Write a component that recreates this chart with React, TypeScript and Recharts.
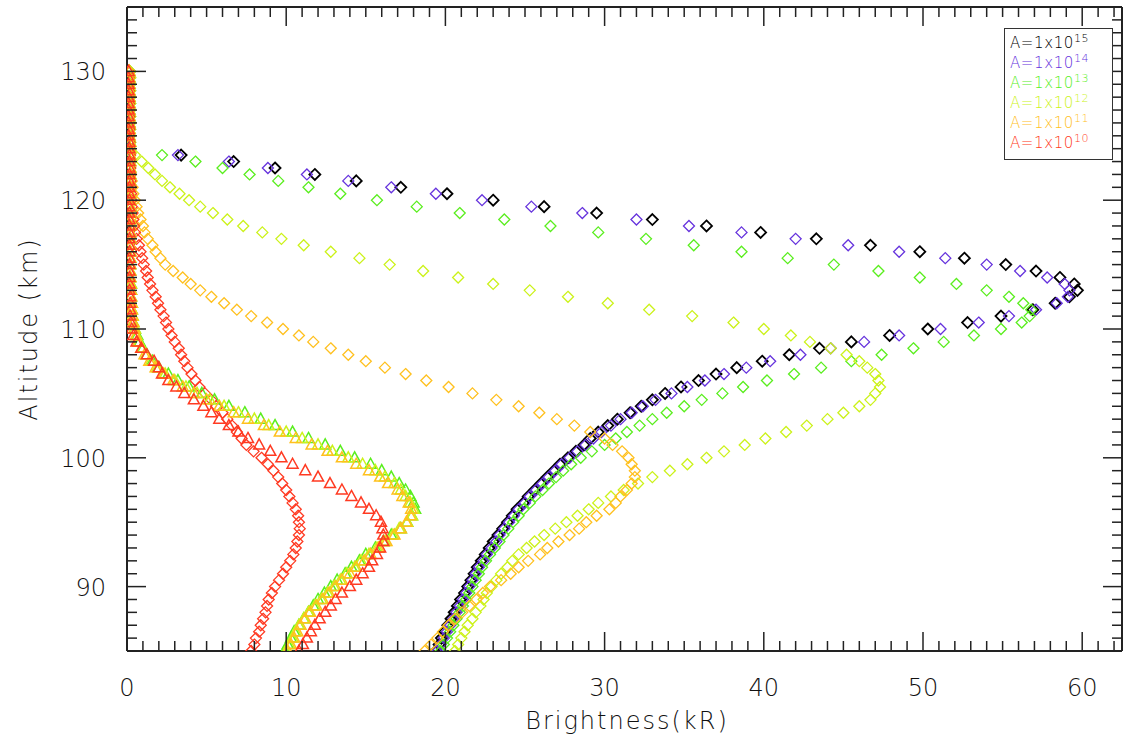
import { ScatterChart, Scatter, XAxis, YAxis, ReferenceLine, Legend } from "recharts";

// Altitude grid (km) shared by every profile.
const ALT = [
  85, 85.5, 86, 86.5, 87, 87.5, 88, 88.5, 89, 89.5,
  90, 90.5, 91, 91.5, 92, 92.5, 93, 93.5, 94, 94.5,
  95, 95.5, 96, 96.5, 97, 97.5, 98, 98.5, 99, 99.5,
  100, 100.5, 101, 101.5, 102, 102.5, 103, 103.5, 104, 104.5,
  105, 105.5, 106, 106.5, 107, 107.5, 108, 108.5, 109, 109.5,
  110, 110.5, 111, 111.5, 112, 112.5, 113, 113.5, 114, 114.5,
  115, 115.5, 116, 116.5, 117, 117.5, 118, 118.5, 119, 119.5,
  120, 120.5, 121, 121.5, 122, 122.5, 123, 123.5, 124, 124.5,
  125, 125.5, 126, 126.5, 127, 127.5, 128, 128.5, 129, 129.5,
  130,
];

// Brightness (kR), diamonds
const D15 = [
  19.4, 19.6, 19.75, 19.95, 20.15, 20.35, 20.55, 20.75, 20.95, 21.2,
  21.4, 21.6, 21.8, 22.0, 22.25, 22.5, 22.75, 23.0, 23.3, 23.6,
  23.9, 24.2, 24.5, 24.9, 25.2, 25.6, 26.0, 26.4, 26.8, 27.2,
  27.7, 28.2, 28.7, 29.1, 29.6, 30.2, 30.8, 31.6, 32.3, 33.0,
  33.8, 34.8, 35.9, 37.0, 38.3, 39.9, 41.6, 43.5, 45.5, 47.9,
  50.3, 52.8, 54.9, 56.9, 58.3, 59.2, 59.7, 59.5, 58.6, 57.1,
  55.2, 52.6, 49.8, 46.7, 43.3, 39.8, 36.4, 33.0, 29.5, 26.2,
  23.0, 20.1, 17.2, 14.4, 11.8, 9.3, 6.7, 3.4, 0.1, 0.1,
  0.1, 0.1, 0.1, 0.1, 0.1, 0.1, 0.1, 0.1, 0.1, 0.1,
  0.1,
];
const D14 = [
  19.5, 19.7, 19.9, 20.1, 20.3, 20.5, 20.7, 20.9, 21.1, 21.3,
  21.5, 21.7, 21.9, 22.1, 22.4, 22.6, 22.9, 23.2, 23.4, 23.7,
  24.0, 24.3, 24.6, 25.0, 25.3, 25.7, 26.1, 26.5, 26.9, 27.3,
  27.8, 28.3, 28.8, 29.3, 29.8, 30.4, 31.0, 31.7, 32.4, 33.2,
  34.2, 35.2, 36.3, 37.5, 38.9, 40.4, 42.3, 44.2, 46.3, 48.5,
  51.1, 53.5, 55.4, 57.1, 58.4, 59.1, 59.2, 58.9, 57.8, 56.1,
  54.0, 51.4, 48.5, 45.3, 42.0, 38.6, 35.3, 32.0, 28.6, 25.4,
  22.3, 19.4, 16.6, 13.9, 11.3, 8.85, 6.4, 3.2, 0.1, 0.1,
  0.1, 0.1, 0.1, 0.1, 0.1, 0.1, 0.1, 0.1, 0.1, 0.1,
  0.1,
];
const D13 = [
  19.7, 19.9, 20.1, 20.3, 20.5, 20.7, 20.9, 21.1, 21.3, 21.5,
  21.7, 21.9, 22.1, 22.3, 22.55, 22.8, 23.1, 23.4, 23.65, 23.95,
  24.25, 24.6, 24.9, 25.3, 25.65, 26.1, 26.5, 26.95, 27.4, 27.9,
  28.5, 29.2, 30.0, 30.7, 31.4, 32.2, 33.0, 33.9, 35.0, 36.1,
  37.4, 38.7, 40.2, 41.9, 43.6, 45.5, 47.4, 49.4, 51.3, 53.2,
  54.9, 56.2, 56.7, 56.8, 56.3, 55.4, 54.0, 52.1, 49.8, 47.2,
  44.4, 41.5, 38.6, 35.6, 32.6, 29.6, 26.6, 23.7, 20.9, 18.2,
  15.7, 13.4, 11.4, 9.5, 7.7, 6.0, 4.3, 2.2, 0.2, 0.2,
  0.2, 0.2, 0.2, 0.2, 0.2, 0.2, 0.2, 0.2, 0.2, 0.2,
  0.2,
];
const D12 = [
  20.6, 20.8, 21.0, 21.2, 21.4, 21.7, 21.9, 22.2, 22.4, 22.6,
  22.9, 23.2, 23.5, 23.9, 24.2, 24.6, 25.1, 25.6, 26.2, 26.9,
  27.6, 28.3, 29.0, 29.6, 30.4, 31.2, 32.1, 33.0, 34.1, 35.2,
  36.4, 37.5, 38.8, 40.1, 41.4, 42.7, 44.0, 45.0, 46.0, 46.7,
  47.0, 47.3, 47.2, 47.0, 46.5, 46.0, 45.2, 44.2, 42.9, 41.7,
  40.0, 38.1, 35.5, 32.8, 30.2, 27.7, 25.3, 23.0, 20.8, 18.6,
  16.5, 14.6, 12.8, 11.1, 9.7, 8.5, 7.3, 6.3, 5.4, 4.6,
  3.9, 3.3, 2.7, 2.2, 1.76, 1.34, 0.92, 0.5, 0.2, 0.2,
  0.2, 0.2, 0.2, 0.2, 0.2, 0.2, 0.2, 0.2, 0.2, 0.2,
  0.2,
];
const D11 = [
  18.7, 19.1, 19.5, 19.85, 20.2, 20.6, 21.05, 21.5, 21.95, 22.35,
  22.8, 23.5, 24.1, 24.6, 25.2, 25.95, 26.4, 27.1, 27.8, 28.4,
  28.85, 29.5, 30.3, 30.7, 31.0, 31.4, 31.7, 31.9, 31.9, 31.7,
  31.5, 31.1, 30.5, 30.0, 29.1, 28.1, 27.0, 25.9, 24.6, 23.2,
  21.7, 20.2, 18.8, 17.5, 16.2, 15.0, 13.9, 12.8, 11.7, 10.8,
  9.8, 8.8, 7.8, 6.9, 6.1, 5.3, 4.6, 4.0, 3.5, 2.9,
  2.4, 2.1, 1.8, 1.6, 1.3, 1.1, 1.0, 0.85, 0.7, 0.6,
  0.5, 0.4, 0.35, 0.3, 0.25, 0.2, 0.2, 0.2, 0.15, 0.15,
  0.15, 0.15, 0.15, 0.15, 0.15, 0.15, 0.15, 0.15, 0.15, 0.15,
  0.15,
];
const D10 = [
  7.8, 8.0, 8.1, 8.3, 8.4, 8.55, 8.7, 8.8, 8.9, 9.1,
  9.3, 9.55, 9.8, 10.0, 10.25, 10.45, 10.6, 10.7, 10.8, 10.85,
  10.8, 10.75, 10.6, 10.4, 10.2, 10.0, 9.75, 9.5, 9.2, 8.85,
  8.45, 7.95, 7.5, 7.2, 6.9, 6.6, 6.3, 6.0, 5.6, 5.3,
  4.9, 4.55, 4.3, 4.05, 3.8, 3.6, 3.4, 3.25, 3.0, 2.8,
  2.6, 2.45, 2.3, 2.1, 1.95, 1.8, 1.6, 1.45, 1.3, 1.2,
  1.05, 0.95, 0.85, 0.75, 0.6, 0.5, 0.45, 0.4, 0.35, 0.3,
  0.28, 0.26, 0.24, 0.22, 0.2, 0.2, 0.18, 0.18, 0.16, 0.16,
  0.15, 0.15, 0.14, 0.14, 0.13, 0.13, 0.12, 0.12, 0.12, 0.1,
  0.1,
];

// Brightness (kR), triangles
const T13 = [
  9.9, 10.1, 10.3, 10.5, 10.8, 11.1, 11.4, 11.7, 12.0, 12.4,
  12.8, 13.2, 13.7, 14.1, 14.6, 15.0, 15.6, 16.1, 16.6, 17.2,
  17.6, 17.9, 18.1, 18.0, 17.8, 17.5, 17.1, 16.6, 16.0, 15.3,
  14.3, 13.4, 12.45, 11.4, 10.4, 9.3, 8.4, 7.4, 6.4, 5.5,
  4.7, 3.9, 3.2, 2.6, 2.0, 1.6, 1.25, 1.0, 0.8, 0.65,
  0.5, 0.4, 0.35, 0.3, 0.3, 0.25, 0.25, 0.25, 0.2, 0.2,
  0.2, 0.2, 0.2, 0.2, 0.2, 0.2, 0.2, 0.2, 0.2, 0.2,
  0.2, 0.2, 0.2, 0.2, 0.2, 0.2, 0.2, 0.2, 0.2, 0.2,
  0.15, 0.15, 0.15, 0.15, 0.15, 0.15, 0.15, 0.15, 0.15, 0.15,
  0.15,
];
const T12 = [
  10.0, 10.2, 10.4, 10.6, 10.8, 11.1, 11.4, 11.8, 12.2, 12.6,
  13.0, 13.4, 13.8, 14.3, 14.7, 15.2, 15.7, 16.2, 16.7, 17.1,
  17.6, 17.9, 18.0, 17.8, 17.5, 17.2, 16.8, 16.2, 15.6, 14.8,
  13.9, 12.9, 12.0, 11.0, 10.0, 8.9, 8.0, 7.0, 6.1, 5.2,
  4.4, 3.7, 3.0, 2.4, 1.9, 1.5, 1.2, 0.95, 0.75, 0.6,
  0.5, 0.4, 0.35, 0.3, 0.3, 0.25, 0.25, 0.25, 0.2, 0.2,
  0.2, 0.2, 0.2, 0.2, 0.2, 0.2, 0.2, 0.2, 0.2, 0.2,
  0.2, 0.2, 0.2, 0.2, 0.2, 0.2, 0.2, 0.2, 0.2, 0.2,
  0.15, 0.15, 0.15, 0.15, 0.15, 0.15, 0.15, 0.15, 0.15, 0.15,
  0.15,
];
const T11 = [
  10.1, 10.3, 10.5, 10.7, 10.9, 11.2, 11.5, 11.9, 12.3, 12.7,
  13.1, 13.5, 14.0, 14.4, 14.9, 15.3, 15.8, 16.3, 16.8, 17.2,
  17.55, 17.8, 17.85, 17.7, 17.3, 17.0, 16.4, 15.9, 15.2, 14.4,
  13.5, 12.6, 11.6, 10.6, 9.6, 8.6, 7.6, 6.7, 5.8, 5.0,
  4.2, 3.5, 2.9, 2.3, 1.8, 1.4, 1.1, 0.9, 0.7, 0.55,
  0.45, 0.4, 0.35, 0.3, 0.3, 0.25, 0.25, 0.2, 0.2, 0.2,
  0.2, 0.2, 0.2, 0.2, 0.2, 0.2, 0.2, 0.2, 0.2, 0.2,
  0.2, 0.2, 0.2, 0.2, 0.2, 0.2, 0.2, 0.2, 0.2, 0.2,
  0.15, 0.15, 0.15, 0.15, 0.15, 0.15, 0.15, 0.15, 0.15, 0.15,
  0.15,
];
const T10 = [
  10.8, 11.05, 11.3, 11.55, 11.8, 12.1, 12.45, 12.8, 13.1, 13.5,
  14.0, 14.4, 14.8, 15.2, 15.4, 15.7, 15.9, 16.1, 16.1, 16.05,
  15.95, 15.65, 15.2, 14.7, 14.1, 13.5, 12.75, 12.0, 11.2, 10.4,
  9.7, 9.0, 8.3, 7.6, 7.0, 6.4, 5.8, 5.3, 4.8, 4.2,
  3.6, 3.1, 2.6, 2.2, 2.0, 1.7, 1.25, 0.9, 0.6, 0.4,
  0.3, 0.25, 0.2, 0.2, 0.2, 0.2, 0.15, 0.15, 0.15, 0.15,
  0.15, 0.15, 0.15, 0.15, 0.15, 0.15, 0.15, 0.15, 0.15, 0.15,
  0.15, 0.15, 0.15, 0.15, 0.15, 0.15, 0.15, 0.15, 0.15, 0.15,
  0.1, 0.1, 0.1, 0.1, 0.1, 0.1, 0.1, 0.1, 0.1, 0.1,
  0.1,
];

const X_TICKS = [
  0, 1, 2, 3, 4, 5, 6, 7, 8, 9, 10, 11, 12, 13, 14, 15, 16, 17, 18, 19, 20,
  21, 22, 23, 24, 25, 26, 27, 28, 29, 30, 31, 32, 33, 34, 35, 36, 37, 38, 39, 40,
  41, 42, 43, 44, 45, 46, 47, 48, 49, 50, 51, 52, 53, 54, 55, 56, 57, 58, 59, 60,
  61, 62,
];
const Y_TICKS = [
  85, 86, 87, 88, 89, 90, 91, 92, 93, 94, 95, 96, 97, 98, 99, 100,
  101, 102, 103, 104, 105, 106, 107, 108, 109, 110, 111, 112, 113, 114, 115,
  116, 117, 118, 119, 120, 121, 122, 123, 124, 125, 126, 127, 128, 129, 130,
  131, 132, 133, 134, 135,
];

const LEGEND_EXP = ["15", "14", "13", "12", "11", "10"];
const COLORS = ["#000000", "#6633dd", "#5aee1e", "#ccf21a", "#ffc01e", "#ff3a22"];

// plot box in page pixels
const PL = 127;
const PR = 1122;
const PT = 7;
const PB = 651;
const FONT = "'DejaVu Sans', sans-serif";
const AXIS = "#222";

const pts = (xs: number[]) => xs.map((x, i) => ({ x, y: ALT[i] }));

const diamond = (color: string, sw: number) => (p: any) => {
  const h = 5.5;
  return (
    <path
      d={`M${p.cx},${p.cy - h}L${p.cx + h},${p.cy}L${p.cx},${p.cy + h}L${p.cx - h},${p.cy}Z`}
      fill="none"
      stroke={color}
      strokeWidth={sw}
    />
  );
};

const triangle = (color: string, sw: number) => (p: any) => (
  <path
    d={`M${p.cx},${p.cy - 6}L${p.cx + 5.5},${p.cy + 4}L${p.cx - 5.5},${p.cy + 4}Z`}
    fill="none"
    stroke={color}
    strokeWidth={sw}
  />
);

function XTick({ x, payload }: any) {
  const v = payload.value;
  const major = v % 10 === 0;
  const len = major ? 19 : 10;
  return (
    <g>
      <line x1={x} x2={x} y1={PB} y2={PB - len} stroke={AXIS} strokeWidth={1.5} />
      <line x1={x} x2={x} y1={PT} y2={PT + len} stroke={AXIS} strokeWidth={1.5} />
      {major && (
        <text x={x} y={PB + 45} textAnchor="middle" fontFamily={FONT} fontWeight={200} fontSize={24} fill="#111">
          {v}
        </text>
      )}
    </g>
  );
}

function YTick({ y, payload }: any) {
  const v = payload.value;
  const major = v % 10 === 0;
  const len = major ? 19 : 10;
  return (
    <g>
      <line x1={PL} x2={PL + len} y1={y} y2={y} stroke={AXIS} strokeWidth={1.5} />
      <line x1={PR} x2={PR - len} y1={y} y2={y} stroke={AXIS} strokeWidth={1.5} />
      {major && v !== 85 && (
        <text x={106} y={y + 9} textAnchor="end" fontFamily={FONT} fontWeight={200} fontSize={24} fill="#111">
          {v}
        </text>
      )}
    </g>
  );
}

const XTitle = () => (
  <text
    x={627}
    y={729}
    textAnchor="middle"
    fontFamily={FONT}
    fontWeight={200}
    fontSize={24}
    letterSpacing={2}
    fill="#111"
  >
    Brightness(kR)
  </text>
);

const YTitle = () => (
  <text
    transform="translate(37,329) rotate(-90)"
    textAnchor="middle"
    fontFamily={FONT}
    fontWeight={200}
    fontSize={24}
    letterSpacing={2}
    fill="#111"
  >
    Altitude (km)
  </text>
);

const LegendBox = () => (
  <div
    style={{
      border: "1px solid #333",
      background: "#fff",
      padding: "4px 3px 6px 5px",
      fontFamily: FONT,
      fontWeight: 200,
      fontSize: 15,
      lineHeight: "20px",
      width: 99,
    }}
  >
    {LEGEND_EXP.map((e, i) => (
      <div key={e} style={{ color: COLORS[i], letterSpacing: 0.6 }}>
        A=1x10<sup style={{ fontSize: 11, verticalAlign: "6px", lineHeight: 0 }}>{e}</sup>
      </div>
    ))}
  </div>
);

export default function App() {
  const diamonds = [D15, D14, D13, D12, D11, D10];
  const triangles = [T13, T12, T11, T10];
  const triColors = [COLORS[2], COLORS[3], COLORS[4], COLORS[5]];
  return (
    <div style={{ position: "absolute", left: 0, top: 0, background: "#fff" }}>
      <ScatterChart
        width={1126}
        height={744}
        margin={{ top: PT, right: 1126 - PR, left: PL - 100, bottom: 744 - PB - 60 }}
      >
        <XAxis
          type="number"
          dataKey="x"
          domain={[0, 62.5]}
          ticks={X_TICKS}
          interval={0}
          allowDataOverflow
          height={60}
          tickLine={false}
          tick={<XTick />}
          axisLine={{ stroke: AXIS, strokeWidth: 2 }}
          label={<XTitle />}
        />
        <YAxis
          type="number"
          dataKey="y"
          domain={[85, 135]}
          ticks={Y_TICKS}
          interval={0}
          allowDataOverflow
          width={100}
          tickLine={false}
          tick={<YTick />}
          axisLine={{ stroke: AXIS, strokeWidth: 2 }}
          label={<YTitle />}
        />
        <ReferenceLine x={62.5} stroke={AXIS} strokeWidth={2} />
        <ReferenceLine y={135} stroke={AXIS} strokeWidth={2} />
        {diamonds.map((d, i) => (
          <Scatter
            key={"d" + i}
            data={pts(d)}
            shape={diamond(COLORS[i], i === 0 ? 1.8 : 1.3)}
            isAnimationActive={false}
          />
        ))}
        {triangles.map((d, i) => (
          <Scatter
            key={"t" + i}
            data={pts(d)}
            shape={triangle(triColors[i], 1.5)}
            isAnimationActive={false}
          />
        ))}
        <Legend
          layout="vertical"
          align="center"
          verticalAlign="middle"
          content={<LegendBox />}
          wrapperStyle={{ left: 1004, top: 28, width: 110 }}
        />
      </ScatterChart>
    </div>
  );
}
